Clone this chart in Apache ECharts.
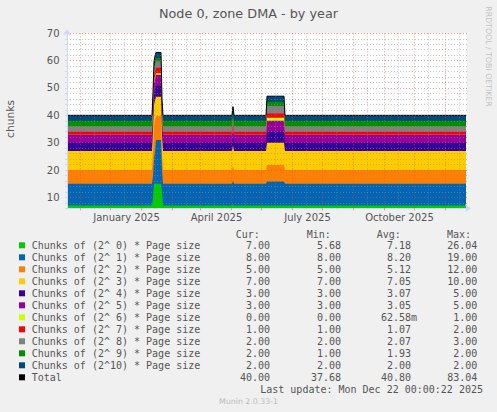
<!DOCTYPE html>
<html><head><meta charset="utf-8">
<script src="https://cdn.jsdelivr.net/npm/echarts@6/dist/echarts.min.js"></script>
<style>html,body{margin:0;padding:0;background:#f0f0f0;}#c{width:497px;height:412px;}</style>
</head><body><div id="c"></div>
<script>
// ---- data ----
const seriesNames = [
  'Chunks of (2^ 0) * Page size','Chunks of (2^ 1) * Page size','Chunks of (2^ 2) * Page size',
  'Chunks of (2^ 3) * Page size','Chunks of (2^ 4) * Page size','Chunks of (2^ 5) * Page size',
  'Chunks of (2^ 6) * Page size','Chunks of (2^ 7) * Page size','Chunks of (2^ 8) * Page size',
  'Chunks of (2^ 9) * Page size','Chunks of (2^10) * Page size'
];
const seriesColors = ['#00cc00','#0066b3','#ff8000','#ffcc00','#330099','#990099','#ccff00','#ff0000','#808080','#008f00','#00487d'];
const dates = ['2024-10-19','2025-01-12','2025-01-13','2025-01-14','2025-01-15','2025-01-16','2025-01-21','2025-01-22','2025-01-23',
  '2025-04-02','2025-04-03','2025-04-04','2025-05-06','2025-05-07','2025-05-24','2025-05-25','2025-11-22'];
const o0  = [7,7,10,15,15,15,15,12,7,7,7.5,7,7,7,7,7,7];
const o1  = [8,8,8,9,12,16,16,8,8,8,8.5,8,8,8.8,8.8,8,8];
const o2  = [5,5,9,12,11,8.8,8.8,6,5,5,5.5,5,5,6,6,5,5];
const o3  = [7,7,7.5,8,7.5,7,7,7,7,7,7.5,7,7,8.2,8.2,7,7];
const o4  = [3,3,3.3,3.8,4,4,4,3,3,3,3.3,3,3,4,4,3,3];
const o5  = [3,3,3.3,3.8,4,4,4,3,3,3,3.3,3,3,4,4,3,3];
const o6  = [0,0,0.2,0.6,0.6,0.6,0.6,0,0,0,0.2,0,0,1.1,1.1,0,0];
const o7  = [1,1,1.3,1.8,2,2,2,1,1,1,1.2,1,1,1.6,1.6,1,1];
const o8  = [2,2,2.2,2.4,2.4,2.4,2.4,2,2,2,2.3,2,2,2.7,2.7,2,2];
const o9  = [2,2,1.8,1.3,1.2,1.2,1.2,2,2,2,1.9,2,2,1.6,1.6,2,2];
const o10 = [2,2,2,2,2,2,2,2,2,2,2,2,2,2,2,2,2];
const curVals = ['7.00','8.00','5.00','7.00','3.00','3.00','0.00','1.00','2.00','2.00','2.00','40.00'];
const minVals = ['5.68','8.00','5.00','7.00','3.00','3.00','0.00','1.00','2.00','1.00','2.00','37.68'];
const avgVals = ['7.18','8.20','5.12','7.05','3.07','3.05','62.58','1.07','2.07','1.93','2.00','40.80'];
const avgUnits = ['','','','','','','m','','','','',''];
const maxVals = ['26.04','19.00','12.00','10.00','5.00','5.00','1.00','2.00','3.00','2.00','2.00','83.04'];
const monthTicks = ['2024-11-01','2024-12-01','2025-01-01','2025-02-01','2025-03-01','2025-04-01','2025-05-01',
  '2025-06-01','2025-07-01','2025-08-01','2025-09-01','2025-10-01','2025-11-01'];
const midMonthTicks = ['2024-11-15','2024-12-15','2025-01-15','2025-02-15','2025-03-15','2025-04-15','2025-05-15',
  '2025-06-15','2025-07-15','2025-08-15','2025-09-15','2025-10-15','2025-11-15'];
const quarterTicks = ['2025-01-01','2025-04-01','2025-07-01','2025-10-01'];
const quarterNames = ['January 2025','April 2025','July 2025','October 2025'];
const yTickLabels = [10,20,30,40,50,60,70];
const xStart = '2024-10-19', xEnd = '2025-11-23';

// ---- build ----
const t = s => Date.UTC(+s.slice(0,4), +s.slice(5,7) - 1, +s.slice(8,10));
const layers = [o0,o1,o2,o3,o4,o5,o6,o7,o8,o9,o10];
// running (stacked) sums, drawn as areas down to the axis floor, top layer first
const cum = [];
layers.forEach((l, k) => cum.push(l.map((v, i) => v + (k ? cum[k-1][i] : 0))));
const totals = cum[cum.length - 1];
const G = 'rgba(143,143,143,0.5)', R = 'rgba(222,79,79,0.55)';
const DASH = [1, 2];
const series = [];
for (let k = layers.length - 1; k >= 0; k--) {
  series.push({
    name: seriesNames[k], type: 'line', symbol: 'none', z: 2,
    data: dates.map((d,i) => [t(d), cum[k][i]]),
    lineStyle: {width: 0, color: seriesColors[k]}, itemStyle: {color: seriesColors[k]},
    areaStyle: {color: seriesColors[k], opacity: 1, origin: 'start'}
  });
}
series.push({
  name: 'Total', type: 'line', symbol: 'none', z: 3,
  data: dates.map((d,i) => [t(d), totals[i]]),
  lineStyle: {width: 1, color: '#000'}, itemStyle: {color: '#000'},
  markLine: {silent: true, symbol: 'none', label: {show: false},
    lineStyle: {color: G, type: DASH, width: 1},
    data: midMonthTicks.map(d => ({xAxis: t(d)}))}
});
const allNames = seriesNames.concat(['Total']);
const mono = 'DejaVu Sans Mono';
const qt = quarterTicks.map(t);
const rs = (w, al) => ({fontFamily: mono, fontSize: 10, color: '#555', width: w, align: al, lineHeight: 12});

const chart = echarts.init(document.getElementById('c'), null, {renderer: 'svg'});
chart.setOption({
  animation: false,
  backgroundColor: '#f0f0f0',
  grid: {left: 67, top: 33.3, width: 400, height: 175, backgroundColor: '#ffffff', show: true, borderWidth: 0},
  xAxis: {
    type: 'value', min: t(xStart), max: t(xEnd), z: 4, scale: true,
    axisLine: {show: true, lineStyle: {color: '#cfd6f8'}, symbol: ['none','arrow'], symbolSize: [6,6], symbolOffset: [0,4]},
    axisTick: {show: true, length: 2, customValues: monthTicks.map(t), lineStyle: {color: R}},
    axisLabel: {customValues: qt, color: '#555', fontFamily: 'DejaVu Sans', fontSize: 10, margin: 4.5,
      padding: [0, 29, 0, 0],
      formatter: v => { const i = qt.indexOf(v); return i >= 0 ? quarterNames[i] : ''; }},
    splitLine: {show: true, lineStyle: {color: R, type: DASH, width: 1}}
  },
  yAxis: {
    type: 'value', min: 6, max: 70, interval: 2, z: 4,
    axisLine: {show: true, lineStyle: {color: '#cfd6f8'}, symbol: ['none','arrow'], symbolSize: [6,6], symbolOffset: [0,4]},
    axisTick: {show: true, length: 2, lineStyle: {color: '#cfd6f8'}},
    axisLabel: {margin: 7.5, color: '#555', fontFamily: 'DejaVu Sans', fontSize: 10,
      formatter: v => yTickLabels.indexOf(v) >= 0 ? String(v) : ''},
    splitLine: {show: true, lineStyle: {color: [G, G, R, G, G], type: DASH, width: 1}}
  },
  legend: {
    orient: 'vertical', left: 14, top: 234.3, itemWidth: 6, itemHeight: 6, itemGap: 0, icon: 'rect',
    selectedMode: false, data: allNames,
    textStyle: {fontFamily: mono, fontSize: 10, color: '#555', lineHeight: 12,
      rich: {
        n: Object.assign(rs(200, 'left'), {padding: [0,0,0,1.7]}),
        c: rs(38.3, 'right'), m: rs(71, 'right'), a: rs(76, 'right'), x: rs(60.3, 'right')
      }},
    formatter: name => {
      const i = allNames.indexOf(name);
      return '{n|' + name + '}{c|' + curVals[i] + '}{m|' + minVals[i] + '}{a|' + avgVals[i] +
        (avgUnits[i] || '\u00a0') + '}{x|' + maxVals[i] + '}';
    }
  },
  graphic: [
    {type: 'text', x: 248.5, y: 13.3, style: {text: 'Node 0, zone DMA - by year', fill: '#555', font: '12.8px "DejaVu Sans"', align: 'center', verticalAlign: 'middle'}},
    {type: 'text', x: 10.5, y: 119, rotation: Math.PI / 2, style: {text: 'chunks', fill: '#555', font: '10.7px "DejaVu Sans"', align: 'center', verticalAlign: 'middle'}},
    {type: 'text', x: 488.3, y: 56.5, rotation: -Math.PI / 2, style: {text: 'RRDTOOL / TOBI OETIKER', fill: '#c4c4c4', font: '7.8px "DejaVu Sans"', align: 'center', verticalAlign: 'middle'}},
    {type: 'text', x: 235.7, y: 234, style: {text: 'Cur:', fill: '#555', font: '10px "DejaVu Sans Mono"', align: 'left', verticalAlign: 'middle'}},
    {type: 'text', x: 306.7, y: 234, style: {text: 'Min:', fill: '#555', font: '10px "DejaVu Sans Mono"', align: 'left', verticalAlign: 'middle'}},
    {type: 'text', x: 376.7, y: 234, style: {text: 'Avg:', fill: '#555', font: '10px "DejaVu Sans Mono"', align: 'left', verticalAlign: 'middle'}},
    {type: 'text', x: 447, y: 234, style: {text: 'Max:', fill: '#555', font: '10px "DejaVu Sans Mono"', align: 'left', verticalAlign: 'middle'}},
    {type: 'text', x: 483, y: 389.7, style: {text: 'Last update: Mon Dec 22 00:00:22 2025', fill: '#555', font: '10px "DejaVu Sans Mono"', align: 'right', verticalAlign: 'middle'}},
    {type: 'text', x: 248.5, y: 401.3, style: {text: 'Munin 2.0.33-1', fill: '#bbbbbb', font: '7.8px "DejaVu Sans"', align: 'center', verticalAlign: 'middle'}}
  ],
  series: series
});
</script></body></html>
